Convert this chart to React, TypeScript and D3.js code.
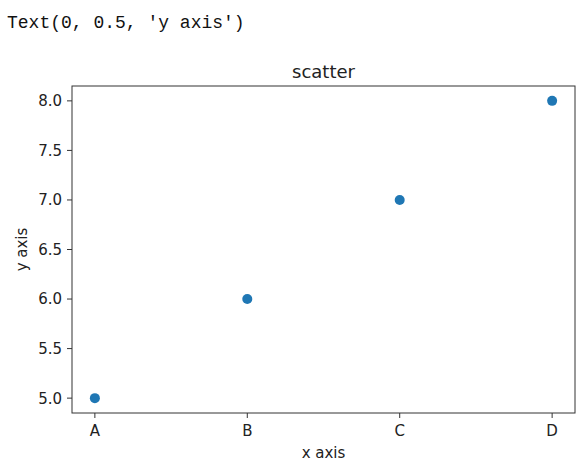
import React from "react";
import * as d3 from "d3";

const categories = ["A", "B", "C", "D"];
const values = [5, 6, 7, 8];
const yTicks = [5.0, 5.5, 6.0, 6.5, 7.0, 7.5, 8.0];
const title = "scatter";
const xLabel = "x axis";
const yLabel = "y axis";
const outText = "Text(0, 0.5, 'y axis')";

export default function App() {
  const W = 588, H = 467;
  const left = 72, right = 575, top = 86, bottom = 413;
  const x = d3.scaleLinear().domain([-0.15, categories.length - 1 + 0.15]).range([left, right]);
  const y = d3.scaleLinear().domain([4.85, 8.15]).range([bottom, top]);
  const font = "'DejaVu Sans', sans-serif";
  return (
    <svg width={W} height={H} style={{ position: "absolute", left: 0, top: 0, background: "#fff" }}>
      <text x={7} y={28} fontFamily="'Liberation Mono', 'DejaVu Sans Mono', monospace" fontSize={18} fill="#111">{outText}</text>
      <text x={(left + right) / 2} y={78} textAnchor="middle" fontFamily={font} fontSize={18} fill="#222">{title}</text>
      {yTicks.map((t) => (
        <g key={t}>
          <line x1={left - 5} x2={left} y1={y(t)} y2={y(t)} stroke="#333" strokeWidth={1} />
          <text x={left - 10} y={y(t)} dy="0.36em" textAnchor="end" fontFamily={font} fontSize={15} fill="#222">{t.toFixed(1)}</text>
        </g>
      ))}
      {categories.map((c, i) => (
        <g key={c}>
          <line x1={x(i)} x2={x(i)} y1={bottom} y2={bottom + 5} stroke="#333" strokeWidth={1} />
          <text x={x(i)} y={bottom + 23} textAnchor="middle" fontFamily={font} fontSize={15} fill="#222">{c}</text>
        </g>
      ))}
      {values.map((v, i) => (
        <circle key={i} cx={x(i)} cy={y(v)} r={5} fill="#1f77b4" />
      ))}
      <rect x={left} y={top} width={right - left} height={bottom - top} fill="none" stroke="#333" strokeWidth={1} />
      <text x={(left + right) / 2} y={458} textAnchor="middle" fontFamily={font} fontSize={15} fill="#222">{xLabel}</text>
      <text transform={`translate(27, ${(top + bottom) / 2}) rotate(-90)`} textAnchor="middle" fontFamily={font} fontSize={15} fill="#222">{yLabel}</text>
    </svg>
  );
}
